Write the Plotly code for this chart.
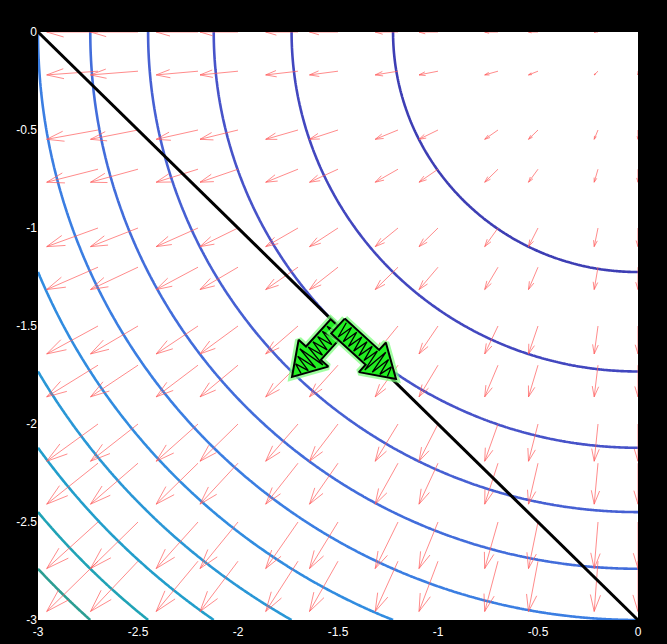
import numpy as np
import plotly.graph_objects as go

# ---------------- data ----------------
x_ticks = [-3, -2.5, -2, -1.5, -1, -0.5, 0]
x_tick_text = ["-3", "-2.5", "-2", "-1.5", "-1", "-0.5", "0"]
y_ticks = [-3, -2.5, -2, -1.5, -1, -0.5, 0]
y_tick_text = ["-3", "-2.5", "-2", "-1.5", "-1", "-0.5", "0"]

# contour levels of f(x, y) = x^2 + y^2 and their line colours
levels = [1.5, 3.0, 4.5, 6.0, 7.5, 9.0, 10.5, 12.0, 13.5, 15.0, 16.5]
level_colors = ["#3d3eb4", "#4247bf", "#4753c9", "#4660d3", "#426ddb", "#3b7ee2",
                "#318ce0", "#2a97d6", "#229ecb", "#20a3b6", "#2b9e92"]

# quiver grid (arrow tails) for the gradient field of f
quiver_x = [-3.0, -2.7, -2.5, -2.2, -2.0, -1.7, -1.5, -1.2, -1.0, -0.7, -0.5, -0.2, 0.0]
quiver_y = [-3.0, -2.7, -2.5, -2.2, -2.0, -1.7, -1.5, -1.2, -1.0, -0.7, -0.5, -0.2, 0.0]
quiver_scale = 0.0475

# constraint line x + y = -3
line_x = [-3.0, 0.0]
line_y = [0.0, -3.0]

# green hand-drawn arrows
garrow_start_x = [-1.5, -1.5]
garrow_start_y = [-1.5, -1.5]
garrow_end_x = [-1.73, -1.21]
garrow_end_y = [-1.76, -1.77]

# ---------------- layout geometry ----------------
W, H = 667, 644
ML, MR, MT, MB = 38, 29, 32, 24
XR = [-3, 0]
YR = [-3, 0]
sx = (W - ML - MR) / (XR[1] - XR[0])
sy = (H - MT - MB) / (YR[1] - YR[0])

fig = go.Figure()

# contours
gx = np.linspace(-3, 0, 301)
gy = np.linspace(-3, 0, 301)
GX, GY = np.meshgrid(gx, gy)
Z = GX ** 2 + GY ** 2
n = len(levels)
cscale = [[i / (n - 1), c] for i, c in enumerate(level_colors)]
fig.add_trace(go.Contour(
    x=gx, y=gy, z=Z,
    contours=dict(coloring="lines", start=levels[0], end=levels[-1],
                  size=levels[1] - levels[0], showlabels=False),
    zmin=levels[0], zmax=levels[-1], zauto=False,
    colorscale=cscale, showscale=False,
    line=dict(width=2.6), hoverinfo="skip",
))

# quiver arrows (MATLAB-style heads)
alpha, beta = 0.33, 0.30
qx, qy = [], []
for y0 in quiver_y:
    for x0 in quiver_x:
        u = quiver_scale * 2 * x0
        v = quiver_scale * 2 * y0
        tx, ty = x0 + u, y0 + v
        qx += [x0, tx, None]
        qy += [y0, ty, None]
        h1x = tx - alpha * (u + beta * v)
        h1y = ty - alpha * (v - beta * u)
        h2x = tx - alpha * (u - beta * v)
        h2y = ty - alpha * (v + beta * u)
        qx += [h1x, tx, h2x, None]
        qy += [h1y, ty, h2y, None]
fig.add_trace(go.Scatter(x=qx, y=qy, mode="lines",
                         line=dict(color="rgba(255,90,90,0.7)", width=1),
                         hoverinfo="skip", showlegend=False))

# constraint line
fig.add_trace(go.Scatter(x=line_x, y=line_y, mode="lines",
                         line=dict(color="black", width=3),
                         hoverinfo="skip", showlegend=False))

# green block arrows
def to_px(x, y):
    return np.array([x * sx, y * sy])

def to_data(p):
    return p[0] / sx, p[1] / sy

for i in range(len(garrow_end_x)):
    S = to_px(garrow_start_x[i], garrow_start_y[i])
    T = to_px(garrow_end_x[i], garrow_end_y[i])
    d = T - S
    L = np.linalg.norm(d)
    d = d / L
    nrm = np.array([-d[1], d[0]])
    hl, hw, sw = 32.0, 20.0, 10.0
    B = T - d * hl
    pts = [S + nrm * sw, B + nrm * sw, B + nrm * hw, T, B - nrm * hw, B - nrm * sw, S - nrm * sw, S + nrm * sw]
    px_ = [to_data(p)[0] for p in pts]
    py_ = [to_data(p)[1] for p in pts]
    # glow
    fig.add_trace(go.Scatter(x=px_, y=py_, mode="lines",
                             line=dict(color="rgba(120,255,120,0.7)", width=7),
                             hoverinfo="skip", showlegend=False))
    fig.add_trace(go.Scatter(x=px_, y=py_, mode="lines", fill="toself",
                             fillcolor="#22ee22", line=dict(color="black", width=2),
                             hoverinfo="skip", showlegend=False))
    # scribble hatching
    zx, zy = [], []
    t = 4.0
    k = 0
    while t < L - 7:
        if t < L - hl:
            half = sw * 0.8
        else:
            half = hw * 0.8 * (L - t) / hl
        side = 1 if k % 2 == 0 else -1
        p = S + d * t + nrm * half * side
        dx_, dy_ = to_data(p)
        zx.append(dx_)
        zy.append(dy_)
        t += 3.5
        k += 1
    fig.add_trace(go.Scatter(x=zx, y=zy, mode="lines",
                             line=dict(color="black", width=1.3),
                             hoverinfo="skip", showlegend=False))

font = dict(family="Liberation Sans, Arial, sans-serif", size=12, color="white")
fig.update_layout(
    width=W, height=H,
    margin=dict(l=ML, r=MR, t=MT, b=MB, pad=0, autoexpand=False),
    paper_bgcolor="black", plot_bgcolor="white",
    showlegend=False,
    xaxis=dict(range=XR, tickvals=x_ticks, ticktext=x_tick_text, showgrid=False,
               zeroline=False, showline=False, ticks="", tickfont=font, fixedrange=True,
               automargin=False, ticklabelstandoff=3),
    yaxis=dict(range=YR, tickvals=y_ticks, ticktext=y_tick_text, showgrid=False,
               zeroline=False, showline=False, ticks="", tickfont=font, fixedrange=True,
               automargin=False),
)

fig.write_html("out.html", config={"displayModeBar": False},
               post_script="document.body.style.margin='0px';document.body.style.background='black';")
